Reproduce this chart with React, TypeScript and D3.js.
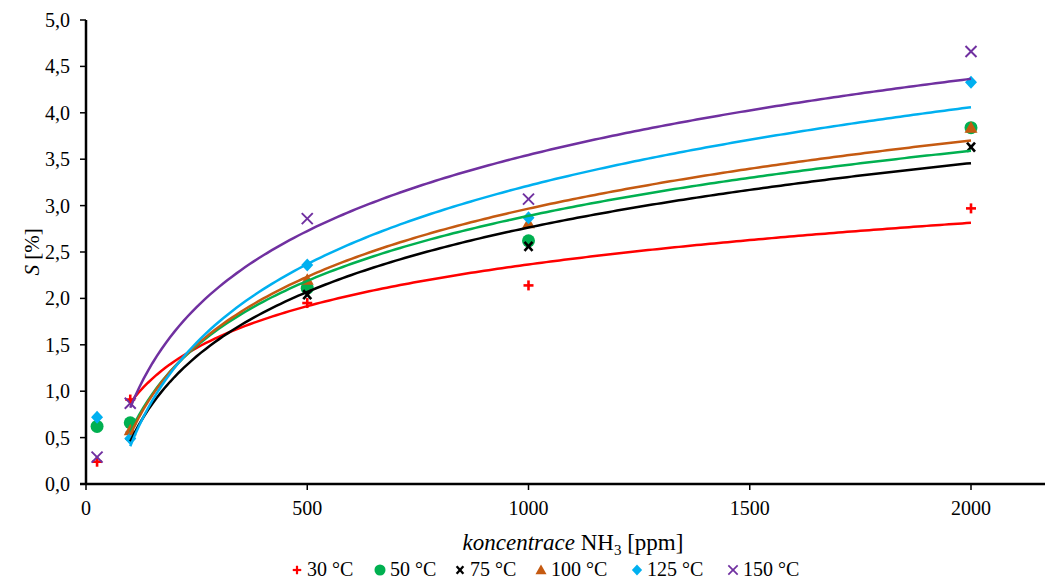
import React from "react";
import * as d3 from "d3";

const concentrations = [25, 100, 500, 1000, 2000];
const seriesNames = ["30 °C", "50 °C", "75 °C", "100 °C", "125 °C", "150 °C"];
const s30 = [0.24, 0.91, 1.95, 2.14, 2.97];
const s50 = [0.62, 0.66, 2.11, 2.62, 3.84];
const s75 = [null, 0.52, 2.04, 2.56, 3.63];
const s100 = [null, 0.58, 2.2, 2.81, 3.84];
const s125 = [0.72, 0.49, 2.36, 2.87, 4.33];
const s150 = [0.29, 0.87, 2.86, 3.07, 4.66];
const yTicks = [0, 0.5, 1, 1.5, 2, 2.5, 3, 3.5, 4, 4.5, 5];
const xTicks = [0, 500, 1000, 1500, 2000];
const colors = ["#FF0000", "#00B050", "#000000", "#C55A11", "#00B0F0", "#7030A0"];
const markers = ["plus", "circle", "boldx", "triangle", "diamond", "x"];

const allSeries = [s30, s50, s75, s100, s125, s150];

function logFit(vals: (number | null)[]) {
  const pts = concentrations
    .map((x, i) => ({ x, y: vals[i] }))
    .filter((p) => p.x >= 100 && p.y != null) as { x: number; y: number }[];
  const lx = pts.map((p) => Math.log(p.x));
  const mx = d3.mean(lx)!;
  const my = d3.mean(pts, (p) => p.y)!;
  let sxy = 0,
    sxx = 0;
  pts.forEach((p, i) => {
    sxy += (lx[i] - mx) * (p.y - my);
    sxx += (lx[i] - mx) * (lx[i] - mx);
  });
  const a = sxy / sxx;
  const b = my - a * mx;
  return (x: number) => a * Math.log(x) + b;
}

function Marker({ type, x, y, color, scale = 1 }: any) {
  const s = scale;
  switch (type) {
    case "plus":
      return (
        <g stroke={color} strokeWidth={2.6 * s}>
          <line x1={x - 5 * s} x2={x + 5 * s} y1={y} y2={y} />
          <line x1={x} x2={x} y1={y - 5 * s} y2={y + 5 * s} />
        </g>
      );
    case "circle":
      return <circle cx={x} cy={y} r={6.5 * s} fill={color} />;
    case "boldx":
      return (
        <g stroke={color} strokeWidth={2.6 * s}>
          <line x1={x - 4 * s} x2={x + 4 * s} y1={y - 4.5 * s} y2={y + 4.5 * s} />
          <line x1={x - 4 * s} x2={x + 4 * s} y1={y + 4.5 * s} y2={y - 4.5 * s} />
        </g>
      );
    case "triangle":
      return (
        <path
          d={`M${x},${y - 6.5 * s}L${x + 6.5 * s},${y + 5 * s}L${x - 6.5 * s},${y + 5 * s}Z`}
          fill={color}
        />
      );
    case "diamond":
      return (
        <path
          d={`M${x},${y - 6.5 * s}L${x + 6 * s},${y}L${x},${y + 6.5 * s}L${x - 6 * s},${y}Z`}
          fill={color}
        />
      );
    case "x":
      return (
        <g stroke={color} strokeWidth={2 * s}>
          <line x1={x - 5.5 * s} x2={x + 5.5 * s} y1={y - 5.5 * s} y2={y + 5.5 * s} />
          <line x1={x - 5.5 * s} x2={x + 5.5 * s} y1={y + 5.5 * s} y2={y - 5.5 * s} />
        </g>
      );
  }
  return null;
}

export default function App() {
  const W = 1048,
    H = 582;
  const x0 = 86,
    xEnd = 1045,
    yTop = 20,
    yBot = 484;
  const pxPerUnit = (971 - 86) / 2000;
  const x = d3.scaleLinear().domain([0, (xEnd - x0) / pxPerUnit]).range([x0, xEnd]);
  const y = d3.scaleLinear().domain([0, 5]).range([yBot, yTop]);
  const font = "'Liberation Serif', 'Times New Roman', serif";

  const curveXs = d3.range(100, 2001, 10);
  const line = d3
    .line<number[]>()
    .x((d) => x(d[0]))
    .y((d) => y(d[1]))
    .curve(d3.curveLinear);

  const legendX = [297, 380, 460, 541, 637, 733];

  return (
    <svg
      width={W}
      height={H}
      style={{ position: "absolute", left: 0, top: 0, background: "#fff" }}
      fontFamily={font}
    >
      {/* y ticks */}
      {yTicks.map((t) => (
        <g key={"y" + t}>
          <line x1={x0 - 6} x2={x0} y1={y(t)} y2={y(t)} stroke="#000" strokeWidth={1.5} />
          <text x={x0 - 16} y={y(t)} dy="0.35em" textAnchor="end" fontSize={20}>
            {t.toFixed(1).replace(".", ",")}
          </text>
        </g>
      ))}
      {/* x ticks */}
      {xTicks.map((t) => (
        <g key={"x" + t}>
          <line x1={x(t)} x2={x(t)} y1={yBot} y2={yBot + 6} stroke="#000" strokeWidth={1.5} />
          <text x={x(t)} y={yBot + 31} textAnchor="middle" fontSize={20}>
            {t}
          </text>
        </g>
      ))}
      {/* points */}
      {allSeries.map((vals, si) =>
        vals.map((v, i) =>
          v == null ? null : (
            <Marker
              key={si + "-" + i}
              type={markers[si]}
              x={x(concentrations[i])}
              y={y(v)}
              color={colors[si]}
            />
          )
        )
      )}
      {/* trendlines */}
      {allSeries.map((vals, si) => {
        const f = logFit(vals);
        const pts = curveXs.map((cx) => [cx, f(cx)]);
        return (
          <path key={"c" + si} d={line(pts)!} fill="none" stroke={colors[si]} strokeWidth={2.5} />
        );
      })}
      {/* axes */}
      <line x1={x0} x2={x0} y1={yTop} y2={yBot} stroke="#000" strokeWidth={2.5} />
      <line x1={x0 - 6} x2={xEnd} y1={yBot} y2={yBot} stroke="#000" strokeWidth={2.5} />
      {/* axis titles */}
      <text
        transform={`translate(39,${(yTop + yBot) / 2}) rotate(-90)`}
        textAnchor="middle"
        fontSize={21}
      >
        <tspan fontStyle="italic">S</tspan> [%]
      </text>
      <text x={573} y={550} textAnchor="middle" fontSize={23}>
        <tspan fontStyle="italic">koncentrace</tspan> NH
        <tspan fontSize={15} dy={5}>3</tspan>
        <tspan dy={-5}> [ppm]</tspan>
      </text>
      {/* legend */}
      {seriesNames.map((n, si) => (
        <g key={"l" + si}>
          <Marker type={markers[si]} x={legendX[si]} y={570} color={colors[si]} scale={0.85} />
          <text x={legendX[si] + 10} y={576} fontSize={20}>
            {n}
          </text>
        </g>
      ))}
    </svg>
  );
}
